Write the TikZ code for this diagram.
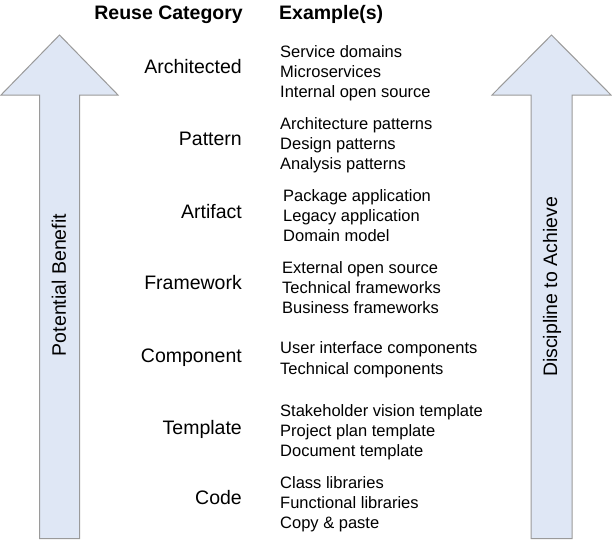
\documentclass[tikz,border=0pt]{standalone}
\usepackage{fontspec}
\setmainfont{Liberation Sans}
\definecolor{arrowfill}{HTML}{DFE7F5}
\definecolor{arrowline}{HTML}{9A9A9A}
\begin{document}
\begin{tikzpicture}[x=1pt,y=-1pt,
  bigarrow/.style={fill=arrowfill,draw=arrowline,line width=1pt,line join=miter},
  head/.style={anchor=base,inner sep=0pt,font=\fontsize{19.5}{23}\selectfont\bfseries},
  cat/.style={anchor=base east,inner sep=0pt,font=\fontsize{19.5}{23}\selectfont},
  ex/.style={anchor=base west,inner sep=0pt,font=\fontsize{16.5}{20}\selectfont},
  vlabel/.style={rotate=90,inner sep=0pt,font=\fontsize{19.5}{23}\selectfont}]
\useasboundingbox (0,0) rectangle (612,543);
% arrows
\draw[bigarrow] (59.5,35) -- (1,95) -- (39.5,95) -- (39.5,538.5) -- (79.5,538.5) -- (79.5,95) -- (118,95) -- cycle;
\draw[bigarrow] (551.5,35) -- (492,95) -- (531,95) -- (531,538.5) -- (572,538.5) -- (572,95) -- (611,95) -- cycle;
\node[vlabel] (pb) at (59,285) {Potential Benefit};
\node[vlabel] (da) at (552,287) {Discipline to Achieve};
% headers
\node[head,anchor=base east] (h1) at (243,20) {Reuse Category};
\node[head,anchor=base west] (h2) at (279,20) {Example(s)};
% categories
\node[cat] (c1) at (242,74) {Architected};
\node[cat] (c2) at (242,145) {Pattern};
\node[cat] (c3) at (242,218) {Artifact};
\node[cat] (c4) at (242,289) {Framework};
\node[cat] (c5) at (242,362) {Component};
\node[cat] (c6) at (242,434) {Template};
\node[cat] (c7) at (242,504) {Code};
% examples
\node[ex] (e11) at (280,57) {Service domains};
\node[ex] (e12) at (280,77) {Microservices};
\node[ex] (e13) at (280,97) {Internal open source};
\node[ex] (e21) at (280,129) {Architecture patterns};
\node[ex] (e22) at (280,149) {Design patterns};
\node[ex] (e23) at (280,169) {Analysis patterns};
\node[ex] (e31) at (283,201) {Package application};
\node[ex] (e32) at (283,221) {Legacy application};
\node[ex] (e33) at (283,241) {Domain model};
\node[ex] (e41) at (282,273) {External open source};
\node[ex] (e42) at (282,293) {Technical frameworks};
\node[ex] (e43) at (282,313) {Business frameworks};
\node[ex] (e51) at (280,353) {User interface components};
\node[ex] (e52) at (280,374) {Technical components};
\node[ex] (e61) at (280,416) {Stakeholder vision template};
\node[ex] (e62) at (280,436) {Project plan template};
\node[ex] (e63) at (280,456) {Document template};
\node[ex] (e71) at (280,488) {Class libraries};
\node[ex] (e72) at (280,508) {Functional libraries};
\node[ex] (e73) at (280,528) {Copy \& paste};
\end{tikzpicture}
\end{document}
